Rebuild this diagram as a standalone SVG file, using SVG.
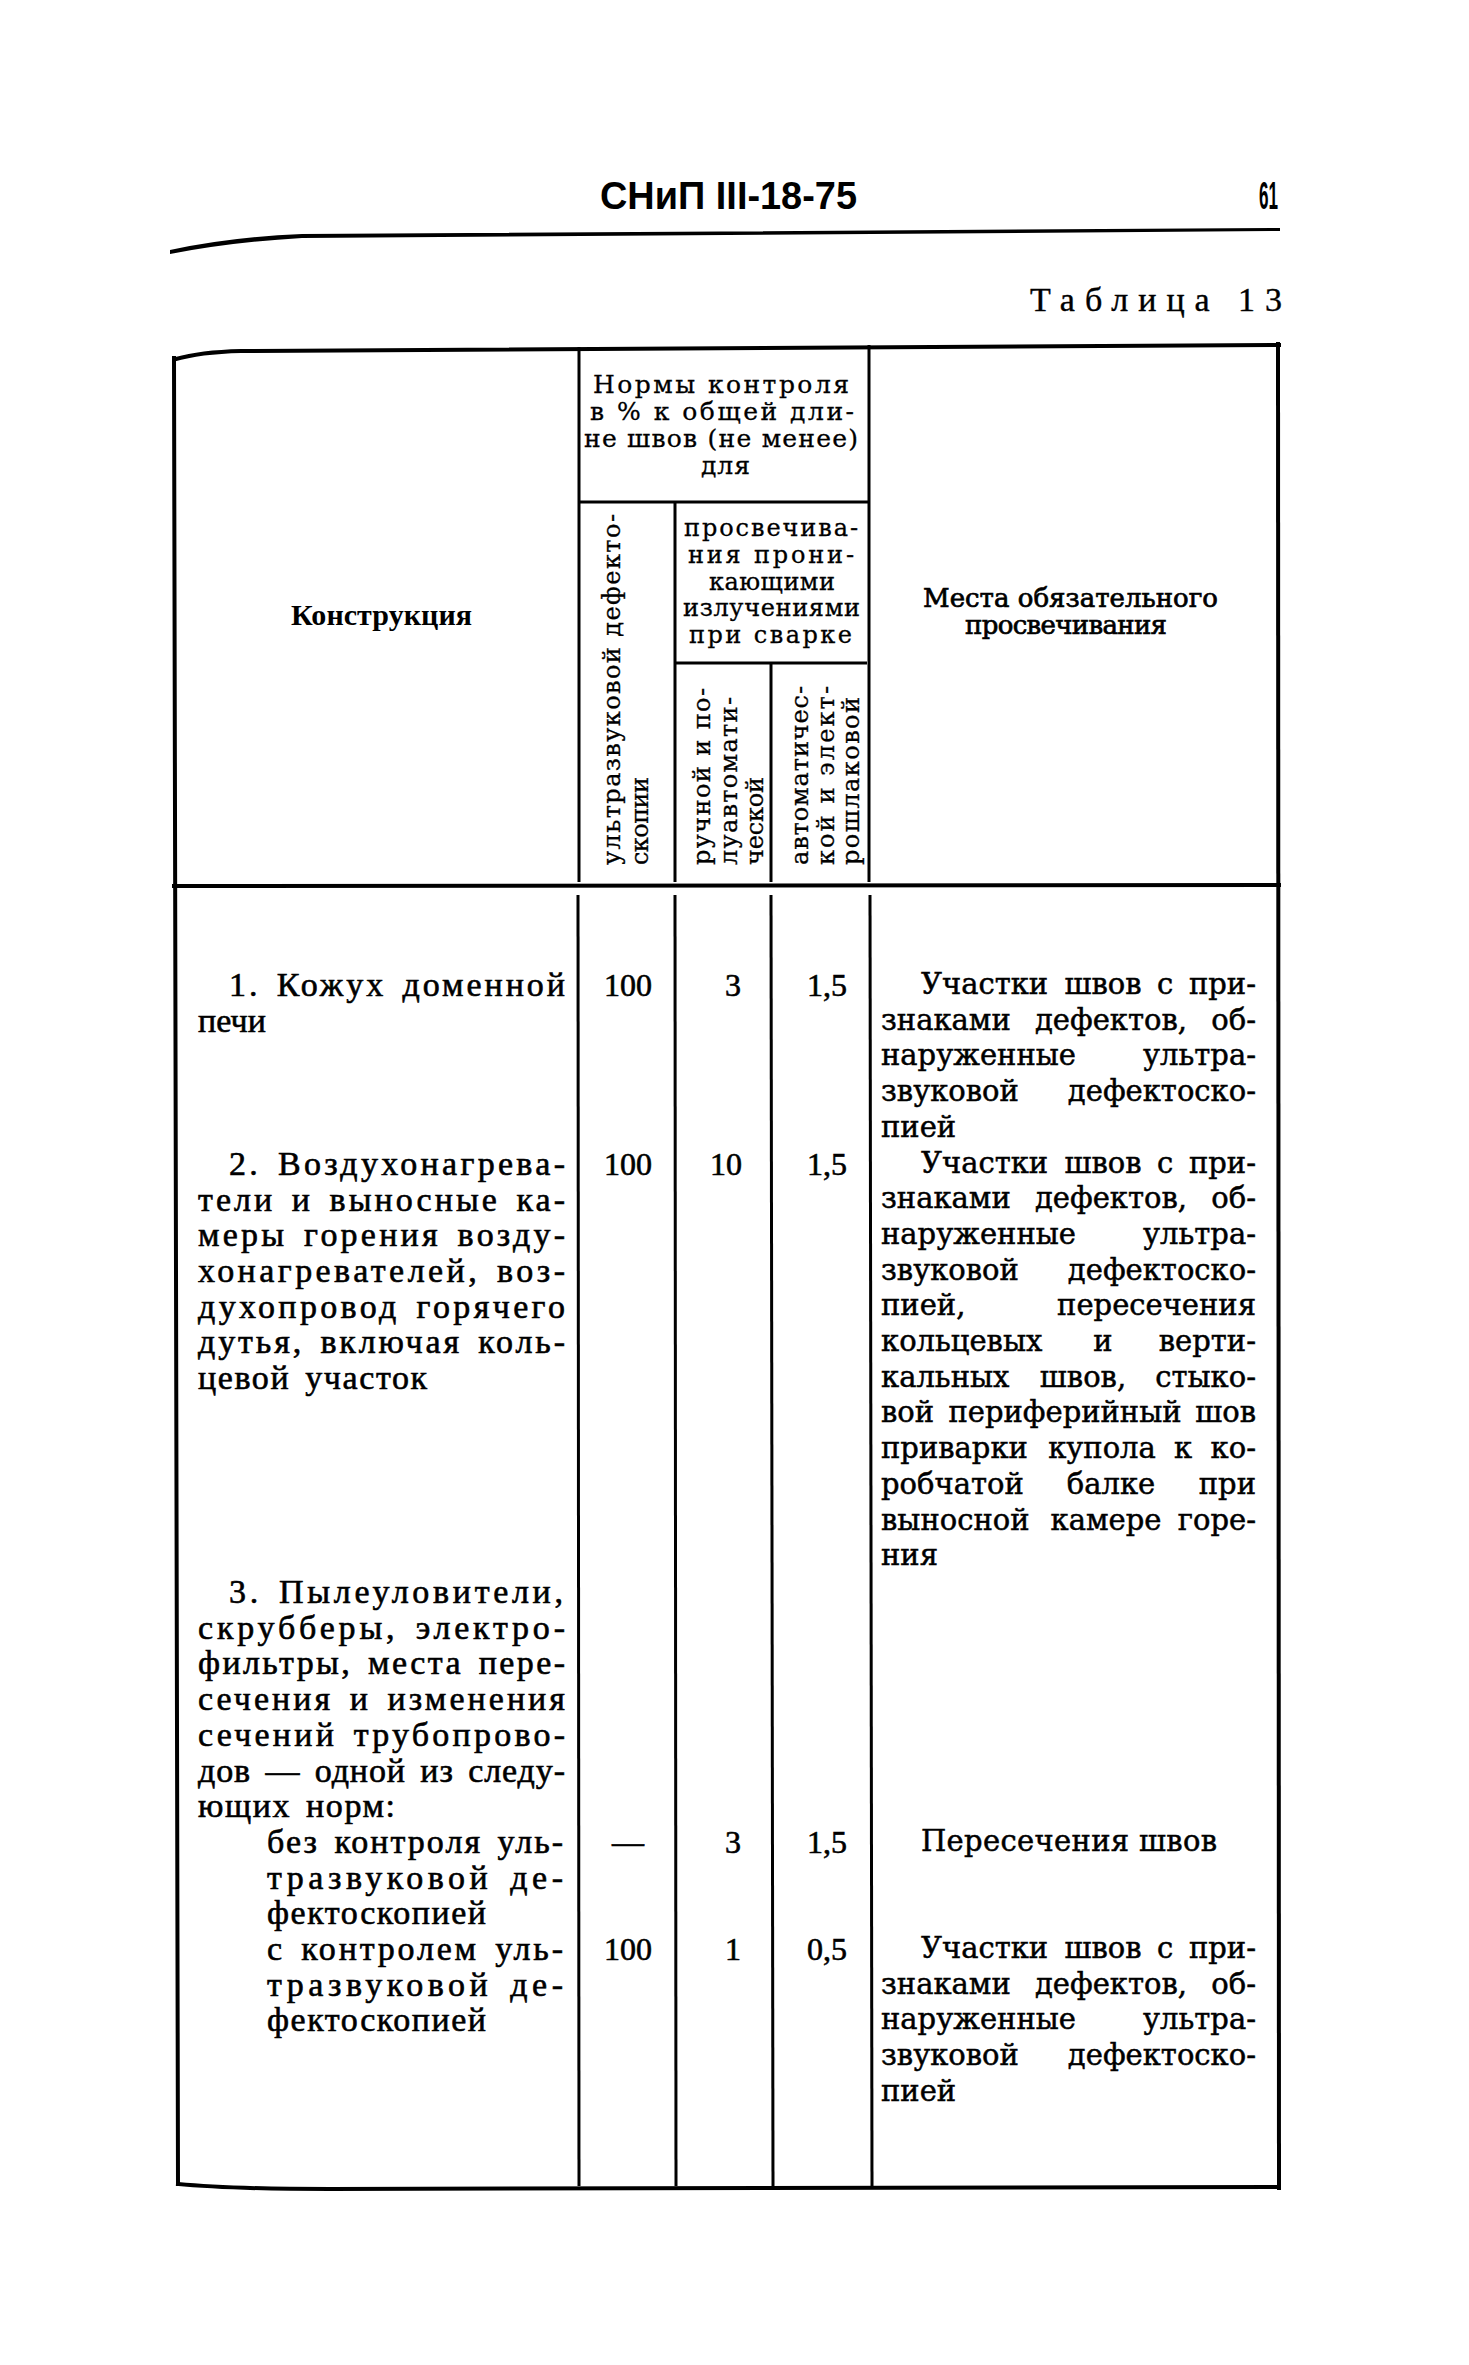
<svg xmlns="http://www.w3.org/2000/svg" width="1469" height="2365" viewBox="0 0 1469 2365">
<style>
  text { fill: #000; }
  .pg { font-family: "Liberation Sans Narrow", "Liberation Sans", sans-serif; font-weight: bold; font-size: 38px; }
  .tb { font-family: "Liberation Serif", serif; font-size: 34px; stroke: #000; stroke-width: 0.4; }
  .hd { font-family: "DejaVu Serif", serif; font-size: 25px; stroke: #000; stroke-width: 0.3; }
  .hp { font-family: "DejaVu Serif", serif; font-size: 24px; stroke: #000; stroke-width: 0.3; }
  .hb { font-family: "DejaVu Serif", serif; font-size: 26px; stroke: #000; stroke-width: 0.7; }
  .kb { font-family: "Liberation Serif", serif; font-size: 30px; font-weight: bold; }
  .vt { font-family: "DejaVu Serif", serif; font-size: 24px; stroke: #000; stroke-width: 0.3; }
  .l { font-family: "Liberation Serif", serif; font-size: 34px; word-spacing: 5px; stroke: #000; stroke-width: 0.6; }
  .r { font-family: "DejaVu Serif", serif; font-size: 29px; stroke: #000; stroke-width: 0.5; }
  .n { font-family: "Liberation Serif", serif; font-size: 32px; text-anchor: middle; stroke: #000; stroke-width: 0.6; }
  .e { text-anchor: end; }
  .m { text-anchor: middle; }
  .b { stroke: #000; stroke-width: 4; fill: none; stroke-linecap: square; }
  .i { stroke: #000; stroke-width: 3; fill: none; }
</style>

<g id="page-header">
  <text class="pg" x="600" y="209" textLength="257" lengthAdjust="spacingAndGlyphs">СНиП III-18-75</text>
  <text class="pg" x="1259" y="209" textLength="19" lengthAdjust="spacingAndGlyphs">61</text>
  <path d="M170,250 Q230,237 302,234 L1280,228 L1280,231 L302,238 Q232,242 170,254 Z" fill="#000"/>
  <text class="tb" x="1030" y="311" textLength="252" lengthAdjust="spacing">Таблица 13</text>
</g>

<g id="table-lines">
  <path class="b" d="M176,359 Q200,352 241,351 L1279,345"/>
  <path class="b" d="M174,358 L178,2184"/>
  <path class="b" d="M1278,344 L1279,2188"/>
  <path class="b" d="M178,2184 Q230,2189 330,2189 L1279,2187"/>
  <path class="b" d="M174,886 L1279,885"/>
  <path class="i" d="M579,347 L579,882"/>
  <path class="i" d="M869,345 L869,882"/>
  <path class="i" d="M579,502 L869,502"/>
  <path class="i" d="M675,502 L675,882"/>
  <path class="i" d="M675,663 L867,663"/>
  <path class="i" d="M771,663 L771,882"/>
  <path class="i" d="M578,895 L579,2186"/>
  <path class="i" d="M675,895 L676,2186"/>
  <path class="i" d="M771,895 L773,2186"/>
  <path class="i" d="M870,895 L872,2186"/>
</g>

<g id="col-header">
  <text class="kb" x="291" y="625" textLength="181" lengthAdjust="spacing">Конструкция</text>
  <text class="hd" x="593" y="393" textLength="256" lengthAdjust="spacing">Нормы контроля</text>
  <text class="hd" x="590" y="420" textLength="264" lengthAdjust="spacing">в % к общей дли-</text>
  <text class="hd" x="584" y="447" textLength="274" lengthAdjust="spacing">не швов (не менее)</text>
  <text class="hd" x="701" y="474" textLength="49" lengthAdjust="spacing">для</text>
  <text class="hp" x="684" y="536" textLength="174" lengthAdjust="spacing">просвечива-</text>
  <text class="hp" x="688" y="563" textLength="166" lengthAdjust="spacing">ния прони-</text>
  <text class="hp" x="709" y="590" textLength="126" lengthAdjust="spacing">кающими</text>
  <text class="hp" x="683" y="616" textLength="177" lengthAdjust="spacing">излучениями</text>
  <text class="hp" x="689" y="643" textLength="163" lengthAdjust="spacing">при сварке</text>
  <text class="vt" transform="translate(620,865) rotate(-90)" textLength="351" lengthAdjust="spacing">ультразвуковой дефекто-</text>
  <text class="vt" transform="translate(648,865) rotate(-90)" textLength="88" lengthAdjust="spacing">скопии</text>
  <text class="vt" transform="translate(710,865) rotate(-90)" textLength="177" lengthAdjust="spacing">ручной и по-</text>
  <text class="vt" transform="translate(737,865) rotate(-90)" textLength="168" lengthAdjust="spacing">луавтомати-</text>
  <text class="vt" transform="translate(763,865) rotate(-90)" textLength="88" lengthAdjust="spacing">ческой</text>
  <text class="vt" transform="translate(808,865) rotate(-90)" textLength="179" lengthAdjust="spacing">автоматичес-</text>
  <text class="vt" transform="translate(834,865) rotate(-90)" textLength="179" lengthAdjust="spacing">кой и элект-</text>
  <text class="vt" transform="translate(859,865) rotate(-90)" textLength="168" lengthAdjust="spacing">рошлаковой</text>
  <text class="hb" x="923" y="607" textLength="295" lengthAdjust="spacing">Места обязательного</text>
  <text class="hb" x="965" y="634" textLength="202" lengthAdjust="spacing">просвечивания</text>
</g>

<g id="row-1">
  <text class="l" x="229" y="996" textLength="336" lengthAdjust="spacing">1. Кожух доменной</text>
  <text class="l" x="198" y="1032" textLength="68" lengthAdjust="spacing">печи</text>
  <text class="n" x="628" y="996">100</text>
  <text class="n" x="733" y="996">3</text>
  <text class="n" x="827" y="996">1,5</text>
  <text class="r" x="921" y="994">Участки</text>
  <text class="r m" x="1103" y="994">швов</text>
  <text class="r m" x="1165" y="994">с</text>
  <text class="r e" x="1256" y="994">при-</text>
  <text class="r" x="881" y="1029.7">знаками</text>
  <text class="r m" x="1111" y="1029.7">дефектов,</text>
  <text class="r e" x="1256" y="1029.7">об-</text>
  <text class="r" x="881" y="1065.4">наруженные</text>
  <text class="r e" x="1256" y="1065.4">ультра-</text>
  <text class="r" x="881" y="1101.1">звуковой</text>
  <text class="r e" x="1256" y="1101.1">дефектоско-</text>
  <text class="r" x="881" y="1136.8">пией</text>
</g>

<g id="row-2">
  <text class="l" x="229" y="1175" textLength="336" lengthAdjust="spacing">2. Воздухонагрева-</text>
  <text class="l" x="198" y="1211" textLength="367" lengthAdjust="spacing">тели и выносные ка-</text>
  <text class="l" x="198" y="1246" textLength="367" lengthAdjust="spacing">меры горения возду-</text>
  <text class="l" x="198" y="1282" textLength="367" lengthAdjust="spacing">хонагревателей, воз-</text>
  <text class="l" x="198" y="1318" textLength="367" lengthAdjust="spacing">духопровод горячего</text>
  <text class="l" x="198" y="1353" textLength="367" lengthAdjust="spacing">дутья, включая коль-</text>
  <text class="l" x="198" y="1389" textLength="229" lengthAdjust="spacing">цевой участок</text>
  <text class="n" x="628" y="1175">100</text>
  <text class="n" x="726" y="1175">10</text>
  <text class="n" x="827" y="1175">1,5</text>
  <text class="r" x="921" y="1172.5">Участки</text>
  <text class="r m" x="1103" y="1172.5">швов</text>
  <text class="r m" x="1165" y="1172.5">с</text>
  <text class="r e" x="1256" y="1172.5">при-</text>
  <text class="r" x="881" y="1208.2">знаками</text>
  <text class="r m" x="1111" y="1208.2">дефектов,</text>
  <text class="r e" x="1256" y="1208.2">об-</text>
  <text class="r" x="881" y="1243.9">наруженные</text>
  <text class="r e" x="1256" y="1243.9">ультра-</text>
  <text class="r" x="881" y="1279.6">звуковой</text>
  <text class="r e" x="1256" y="1279.6">дефектоско-</text>
  <text class="r" x="881" y="1315.3">пией,</text>
  <text class="r e" x="1256" y="1315.3">пересечения</text>
  <text class="r" x="881" y="1351">кольцевых</text>
  <text class="r m" x="1103" y="1351">и</text>
  <text class="r e" x="1256" y="1351">верти-</text>
  <text class="r" x="881" y="1386.7">кальных</text>
  <text class="r m" x="1083" y="1386.7">швов,</text>
  <text class="r e" x="1256" y="1386.7">стыко-</text>
  <text class="r" x="881" y="1422.4">вой</text>
  <text class="r m" x="1065" y="1422.4">периферийный</text>
  <text class="r e" x="1256" y="1422.4">шов</text>
  <text class="r" x="881" y="1458.1">приварки</text>
  <text class="r m" x="1102" y="1458.1">купола</text>
  <text class="r m" x="1183" y="1458.1">к</text>
  <text class="r e" x="1256" y="1458.1">ко-</text>
  <text class="r" x="881" y="1493.8">робчатой</text>
  <text class="r m" x="1111" y="1493.8">балке</text>
  <text class="r e" x="1256" y="1493.8">при</text>
  <text class="r" x="881" y="1529.5">выносной</text>
  <text class="r m" x="1106" y="1529.5">камере</text>
  <text class="r e" x="1256" y="1529.5">горе-</text>
  <text class="r" x="881" y="1565.2">ния</text>
</g>

<g id="row-3">
  <text class="l" x="229" y="1603" textLength="334" lengthAdjust="spacing">3. Пылеуловители,</text>
  <text class="l" x="198" y="1639" textLength="367" lengthAdjust="spacing">скрубберы, электро-</text>
  <text class="l" x="198" y="1674" textLength="367" lengthAdjust="spacing">фильтры, места пере-</text>
  <text class="l" x="198" y="1710" textLength="367" lengthAdjust="spacing">сечения и изменения</text>
  <text class="l" x="198" y="1746" textLength="367" lengthAdjust="spacing">сечений трубопрово-</text>
  <text class="l" x="198" y="1782" textLength="367" lengthAdjust="spacing">дов — одной из следу-</text>
  <text class="l" x="198" y="1817" textLength="197" lengthAdjust="spacing">ющих норм:</text>
</g>

<g id="row-3a">
  <text class="l" x="267" y="1853" textLength="296" lengthAdjust="spacing">без контроля уль-</text>
  <text class="l" x="267" y="1889" textLength="296" lengthAdjust="spacing">тразвуковой де-</text>
  <text class="l" x="267" y="1924" textLength="219" lengthAdjust="spacing">фектоскопией</text>
  <text class="n" x="628" y="1853">—</text>
  <text class="n" x="733" y="1853">3</text>
  <text class="n" x="827" y="1853">1,5</text>
  <text class="r" x="921" y="1851" textLength="296" lengthAdjust="spacing">Пересечения швов</text>
</g>

<g id="row-3b">
  <text class="l" x="267" y="1960" textLength="296" lengthAdjust="spacing">с контролем уль-</text>
  <text class="l" x="267" y="1996" textLength="296" lengthAdjust="spacing">тразвуковой де-</text>
  <text class="l" x="267" y="2031" textLength="219" lengthAdjust="spacing">фектоскопией</text>
  <text class="n" x="628" y="1960">100</text>
  <text class="n" x="733" y="1960">1</text>
  <text class="n" x="827" y="1960">0,5</text>
  <text class="r" x="921" y="1958">Участки</text>
  <text class="r m" x="1103" y="1958">швов</text>
  <text class="r m" x="1165" y="1958">с</text>
  <text class="r e" x="1256" y="1958">при-</text>
  <text class="r" x="881" y="1994">знаками</text>
  <text class="r m" x="1111" y="1994">дефектов,</text>
  <text class="r e" x="1256" y="1994">об-</text>
  <text class="r" x="881" y="2029">наруженные</text>
  <text class="r e" x="1256" y="2029">ультра-</text>
  <text class="r" x="881" y="2065">звуковой</text>
  <text class="r e" x="1256" y="2065">дефектоско-</text>
  <text class="r" x="881" y="2101">пией</text>
</g>
</svg>
